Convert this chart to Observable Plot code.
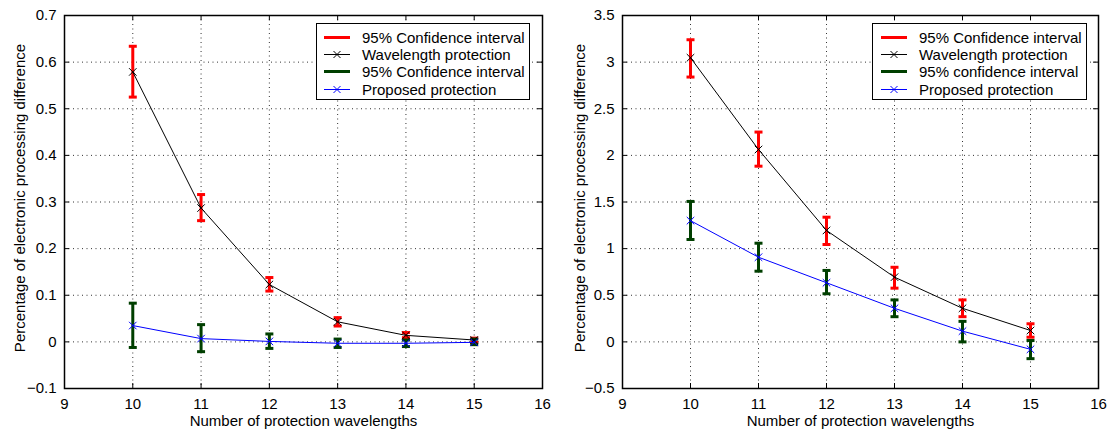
<!DOCTYPE html>
<html><head><meta charset="utf-8">
<script src="https://cdn.jsdelivr.net/npm/d3@7"></script>
<script src="https://cdn.jsdelivr.net/npm/@observablehq/plot@0.6"></script>
<style>
body{margin:0;background:#fff;}
#wrap{position:relative;width:1114px;height:430px;overflow:hidden;font-family:"Liberation Sans",Arial,Helvetica,sans-serif;}
.panel{position:absolute;top:0;}
.legend{position:absolute;background:#fff;border:1px solid #000;box-sizing:border-box;font-size:15px;color:#000;}
.legend .row{position:absolute;left:0;height:17px;line-height:17px;white-space:nowrap;}
.legend svg{position:absolute;top:0;}
.legend span{position:absolute;top:0;}
</style>
</head><body>
<div id="wrap"></div>
<script>
// ---------- data ----------
const protectionWavelengths = [10, 11, 12, 13, 14, 15];
const xTicks = [9, 10, 11, 12, 13, 14, 15, 16];

// left chart
const leftWavelengthMean = [0.579, 0.287, 0.123, 0.043, 0.014, 0.004];
const leftWavelengthLow  = [0.525, 0.260, 0.109, 0.034, 0.009, -0.001];
const leftWavelengthHigh = [0.634, 0.316, 0.138, 0.052, 0.020, 0.008];
const leftProposedMean = [0.035, 0.007, 0.001, -0.003, -0.003, -0.001];
const leftProposedLow  = [-0.012, -0.021, -0.014, -0.012, -0.010, -0.006];
const leftProposedHigh = [0.083, 0.037, 0.017, 0.006, 0.004, 0.006];
const leftYTicks = [-0.1, 0, 0.1, 0.2, 0.3, 0.4, 0.5, 0.6, 0.7];
const leftLegendLabels = ["95% Confidence interval", "Wavelength protection", "95% Confidence interval", "Proposed protection"];

// right chart
const rightWavelengthMean = [3.047, 2.063, 1.195, 0.694, 0.360, 0.122];
const rightWavelengthLow  = [2.840, 1.884, 1.044, 0.576, 0.270, 0.050];
const rightWavelengthHigh = [3.240, 2.250, 1.337, 0.800, 0.450, 0.194];
const rightProposedMean = [1.300, 0.908, 0.634, 0.360, 0.115, -0.080];
const rightProposedLow  = [1.098, 0.758, 0.516, 0.270, 0.000, -0.180];
const rightProposedHigh = [1.506, 1.058, 0.766, 0.450, 0.220, 0.015];
const rightYTicks = [-0.5, 0, 0.5, 1, 1.5, 2, 2.5, 3, 3.5];
const rightLegendLabels = ["95% Confidence interval", "Wavelength protection", "95% confidence interval", "Proposed protection"];

const xLabel = "Number of protection wavelengths";
const yLabel = "Percentage of electronic processing difference";

// ---------- styles ----------
const RED = "#ff0000", GREEN = "#003f00", BLACK = "#000000", BLUE = "#0000ff";
const FONT = '"Liberation Sans", Arial, Helvetica, sans-serif';
const W = 557, H = 430, MT = 15, MB = 42;

const capSymbol = {draw(ctx, size) { const w = Math.sqrt(size / Math.PI); ctx.moveTo(-w, 0); ctx.lineTo(w, 0); }};
const fmt = d3.format("~g");

function rows(mean, low, high) {
  return protectionWavelengths.map((x, i) => ({x, mean: mean[i], low: low[i], high: high[i]}));
}

function panel(cfg) {
  const {wl, pr, yTicks, ml, mr, labelDx} = cfg;
  const innerW = W - ml - mr, innerH = H - MT - MB;
  const errBars = (data, color) => [
    Plot.ruleX(data, {x: "x", y1: "low", y2: "high", stroke: color, strokeWidth: 3}),
    Plot.dot(data, {x: "x", y: "low", symbol: capSymbol, r: 4, stroke: color, strokeWidth: 3, fill: "none"}),
    Plot.dot(data, {x: "x", y: "high", symbol: capSymbol, r: 4, stroke: color, strokeWidth: 3, fill: "none"})
  ];
  const series = (data, color) => [
    Plot.line(data, {x: "x", y: "mean", stroke: color, strokeWidth: 1}),
    Plot.dot(data, {x: "x", y: "mean", symbol: "times", r: 3.5, stroke: color, strokeWidth: 1})
  ];
  return Plot.plot({
    width: W, height: H, marginLeft: ml, marginRight: mr, marginTop: MT, marginBottom: MB,
    x: {domain: [9, 16]},
    y: {domain: [yTicks[0], yTicks[yTicks.length - 1]]},
    style: {fontFamily: FONT, fontSize: "15px", color: "#000", background: "transparent", overflow: "visible"},
    marks: [
      Plot.gridX(xTicks, {stroke: "#333", strokeOpacity: 1, strokeDasharray: "1,3.5"}),
      Plot.gridY(yTicks, {stroke: "#333", strokeOpacity: 1, strokeDasharray: "1,3.5"}),
      Plot.axisX(xTicks, {tickSize: 0, tickPadding: 10, label: null, fontSize: 15}),
      Plot.axisY(yTicks, {tickSize: 0, tickPadding: 8, label: null, tickFormat: fmt, fontSize: 15}),
      Plot.tickX(xTicks, {x: d => d, insetTop: innerH - 5, stroke: "#000"}),
      Plot.tickX(xTicks, {x: d => d, insetBottom: innerH - 5, stroke: "#000"}),
      Plot.tickY(yTicks, {y: d => d, insetRight: innerW - 5, stroke: "#000"}),
      Plot.tickY(yTicks, {y: d => d, insetLeft: innerW - 5, stroke: "#000"}),
      ...errBars(wl, RED),
      ...errBars(pr, GREEN),
      ...series(wl, BLACK),
      ...series(pr, BLUE),
      Plot.frame({stroke: "#000", strokeWidth: 1.5}),
      Plot.text([xLabel], {frameAnchor: "bottom", dy: 33, fontSize: 15, textAnchor: "middle", lineAnchor: "middle"}),
      Plot.text([yLabel], {frameAnchor: "left", rotate: -90, dx: labelDx, dy: -4, fontSize: 15, textAnchor: "middle", lineAnchor: "middle"})
    ]
  });
}

function legend(labels, box) {
  const el = document.createElement("div");
  el.className = "legend";
  Object.assign(el.style, {left: box.left + "px", top: box.top + "px", width: box.width + "px", height: box.height + "px"});
  const kinds = [{color: RED, w: 3, mark: false}, {color: BLACK, w: 1, mark: true}, {color: GREEN, w: 3, mark: false}, {color: BLUE, w: 1, mark: true}];
  labels.forEach((lab, i) => {
    const k = kinds[i];
    const row = document.createElement("div");
    row.className = "row";
    row.style.top = (box.rowTop + i * 17.4 - 8.5) + "px";
    row.style.width = "100%";
    const mk = k.mark ? `<path d="M${box.sx + 13 - 3.5},5 L${box.sx + 13 + 3.5},12 M${box.sx + 13 - 3.5},12 L${box.sx + 13 + 3.5},5" stroke="${k.color}" stroke-width="1"/>` : "";
    row.innerHTML = `<svg width="60" height="17"><line x1="${box.sx}" x2="${box.sx + 26}" y1="8.5" y2="8.5" stroke="${k.color}" stroke-width="${k.w}"/>${mk}</svg><span style="left:${box.tx}px">${lab}</span>`;
    el.appendChild(row);
  });
  return el;
}

const wrap = document.getElementById("wrap");
const left = panel({wl: rows(leftWavelengthMean, leftWavelengthLow, leftWavelengthHigh), pr: rows(leftProposedMean, leftProposedLow, leftProposedHigh), yTicks: leftYTicks, ml: 64, mr: 15, labelDx: -44});
left.classList.add("panel"); left.style.left = "0px";
const right = panel({wl: rows(rightWavelengthMean, rightWavelengthLow, rightWavelengthHigh), pr: rows(rightProposedMean, rightProposedLow, rightProposedHigh), yTicks: rightYTicks, ml: 65, mr: 16, labelDx: -42});
right.classList.add("panel"); right.style.left = "557px";
wrap.appendChild(left);
wrap.appendChild(right);
wrap.appendChild(legend(leftLegendLabels, {left: 316, top: 23, width: 214, height: 77, rowTop: 13, sx: 7, tx: 45}));
wrap.appendChild(legend(rightLegendLabels, {left: 872, top: 23, width: 215, height: 77, rowTop: 13, sx: 8, tx: 46}));
</script>
</body></html>
